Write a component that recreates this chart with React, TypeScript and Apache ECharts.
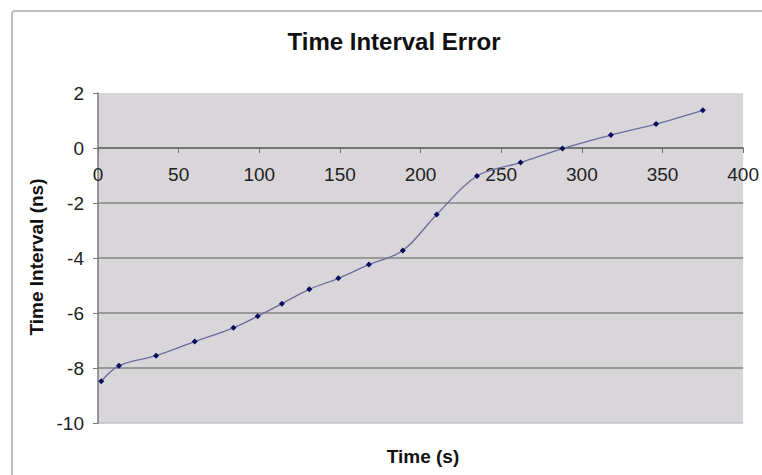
import React, { useEffect, useRef } from "react";
import * as echarts from "echarts";

const chartTitle = "Time Interval Error";
const xAxisTitle = "Time (s)";
const yAxisTitle = "Time Interval (ns)";

const timeSeconds = [2, 13, 36, 60, 84, 99, 114, 131, 149, 168, 189, 210, 235, 262, 288, 318, 346, 375];
const intervalNs = [-8.48, -7.92, -7.55, -7.04, -6.54, -6.12, -5.66, -5.14, -4.74, -4.24, -3.73, -2.42, -1.02, -0.53, -0.02, 0.47, 0.87, 1.37];

const xMin = 0;
const xMax = 400;
const xStep = 50;
const yMin = -10;
const yMax = 2;
const yStep = 2;

export default function App() {
  const ref = useRef<HTMLDivElement>(null);

  useEffect(() => {
    if (!ref.current) return;
    const chart = echarts.init(ref.current, null, { renderer: "svg" });
    const points = timeSeconds.map((t, i) => [t, intervalNs[i]]);
    const labelFont = "Liberation Sans, Arial, sans-serif";

    const gridTop = 93;
    const gridBottomY = 423;
    const zeroY = gridTop + ((yMax - 0) / (yMax - yMin)) * (gridBottomY - gridTop);

    chart.setOption({
      animation: false,
      backgroundColor: "#ffffff",
      title: {
        text: chartTitle,
        left: 389,
        top: 24,
        textAlign: "center",
        textStyle: {
          fontFamily: labelFont,
          fontSize: 24,
          fontWeight: "bold",
          color: "#111111",
        },
      },
      grid: {
        left: 98,
        right: 14,
        top: gridTop,
        bottom: 475 - gridBottomY,
        show: true,
        backgroundColor: "#d8d6d9",
        borderWidth: 0,
      },
      xAxis: {
        type: "value",
        min: xMin,
        max: xMax,
        interval: xStep,
        position: "bottom",
        offset: -(gridBottomY - zeroY),
        axisLine: { show: true, onZero: false, lineStyle: { color: "#6e6e6e", width: 1.5 } },
        axisTick: { show: true, inside: false, length: 5, lineStyle: { color: "#6e6e6e" } },
        axisLabel: {
          margin: 17,
          fontFamily: labelFont,
          fontSize: 19,
          color: "#222222",
          showMaxLabel: true,
          showMinLabel: true,
        },
        splitLine: { show: false },
      },
      yAxis: {
        type: "value",
        min: yMin,
        max: yMax,
        interval: yStep,
        axisLine: { show: true, onZero: false, lineStyle: { color: "#7a7a7a", width: 1.5 } },
        axisTick: { show: true, inside: false, length: 5, lineStyle: { color: "#7a7a7a" } },
        axisLabel: {
          margin: 14,
          fontFamily: labelFont,
          fontSize: 19,
          color: "#222222",
        },
        splitLine: {
          show: true,
          lineStyle: {
            color: ["#c2c0c4", "#858585", "#858585", "#858585", "#858585", "#6e6e6e", "rgba(0,0,0,0)"],
            width: 1.5,
          },
        },
      },
      graphic: [
        {
          type: "rect",
          shape: { x: 12, y: 11, width: 800, height: 520, r: 3 },
          style: { fill: "none", stroke: "#bdbdbd", lineWidth: 2 },
          silent: true,
          z: 100,
        },
        {
          type: "text",
          x: 423,
          y: 456,
          style: {
            text: xAxisTitle,
            textAlign: "center",
            textVerticalAlign: "middle",
            fontFamily: labelFont,
            fontSize: 19,
            fontWeight: "bold",
            fill: "#111111",
          },
        },
        {
          type: "text",
          x: 36,
          y: 257,
          rotation: Math.PI / 2,
          style: {
            text: yAxisTitle,
            textAlign: "center",
            textVerticalAlign: "middle",
            fontFamily: labelFont,
            fontSize: 19,
            fontWeight: "bold",
            fill: "#111111",
          },
        },
      ],
      series: [
        {
          type: "line",
          data: points,
          smooth: 0.35,
          symbol: "diamond",
          symbolSize: 6,
          showSymbol: true,
          itemStyle: { color: "#0a0a5e" },
          lineStyle: { color: "#6a6d9c", width: 1.3 },
          z: 5,
        },
      ],
    });

    return () => {
      chart.dispose();
    };
  }, []);

  return (
    <div
      ref={ref}
      style={{ position: "fixed", left: 0, top: 0, width: 762, height: 475 }}
    />
  );
}
